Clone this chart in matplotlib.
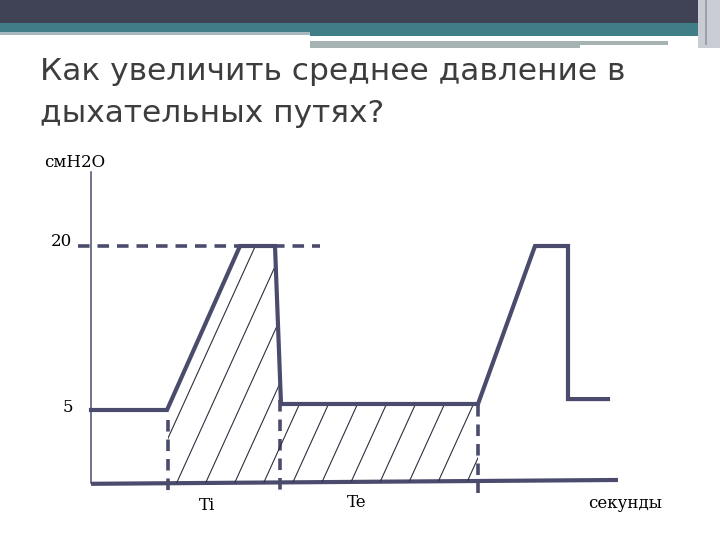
import numpy as np
import matplotlib
matplotlib.use("Agg")
import matplotlib.pyplot as plt
from matplotlib.patches import Rectangle, Polygon
from matplotlib.collections import LineCollection

# ---- data (time in arbitrary units, pressure in cmH2O) ----
wave_t = [0.0, 7.6, 14.9, 18.4, 19.0, 38.7, 44.4, 47.7, 47.7, 51.7]
wave_p = [5.0, 5.0, 20.0, 20.0, 5.55, 5.55, 20.0, 20.0, 6.0, 6.0]
baseline_t = [0.0, 52.7]
baseline_p = [-1.75, -1.4]
yaxis_range = [26.8, -1.7]
peak_ref_t = [-1.3, 22.9]
peak_ref_p = [20.0, 20.0]
marker_t = [7.7, 18.9, 38.7]
marker_top = [4.1, 5.9, 5.5]
marker_bottom = [-2.5, -2.5, -2.6]
hatch_range = [7.7, 38.7]
ytick_vals = [20, 5]
ytick_labels = ["20", "5"]
title = "Как увеличить среднее давление в\nдыхательных путях?"
ylabel = "смН2О"
xlabel = "секунды"
phase_labels = ["Ti", "Te"]
phase_pos = [11.6, 26.6]

LINE = "#4b4b6d"

fig = plt.figure(figsize=(7.2, 5.4), dpi=100)
fig.patch.set_facecolor("white")

# ---- slide decoration (figure coords, y from top) ----
deco = fig.add_axes([0, 0, 1, 1])
deco.set_xlim(0, 720)
deco.set_ylim(540, 0)
deco.axis("off")
deco.add_patch(Rectangle((0, 0), 698, 23, color="#3f4355", lw=0))
deco.add_patch(Rectangle((0, 23), 698, 9, color="#3f7d87", lw=0))
deco.add_patch(Rectangle((0, 32), 310, 3, color="#a9b8be", lw=0))
deco.add_patch(Rectangle((310, 32), 388, 4, color="#3f7d87", lw=0))
deco.add_patch(Rectangle((310, 41), 270, 7, color="#a6b3b3", lw=0))
deco.add_patch(Rectangle((580, 41), 88, 4, color="#a6b3b3", lw=0))
deco.add_patch(Rectangle((698, 0), 22, 48, color="#c9ccd3", lw=0))
deco.add_patch(Rectangle((705, 0), 2, 45, color="#9aa0aa", lw=0))
lines = title.split("\n")
deco.text(40, 80, lines[0], fontsize=22.5, family="DejaVu Sans",
          color="#3d3d3d", va="baseline", ha="left")
deco.text(40, 122, lines[1], fontsize=22.5, family="DejaVu Sans",
          color="#3d3d3d", va="baseline", ha="left")

# ---- chart axes: linear mapping of data to figure ----
# x: t=0 at 91px, 10 px per unit ; y: p=20 at 246px, p=5 at 410px
px_per_t = 10.0
px_per_p = 164.0 / 15.0
x0_t = -91 / px_per_t
x1_t = (720 - 91) / px_per_t
y_top = 20 + 246 / px_per_p
y_bot = 20 - (540 - 246) / px_per_p
ax = fig.add_axes([0, 0, 1, 1])
ax.set_xlim(x0_t, x1_t)
ax.set_ylim(y_bot, y_top)
ax.axis("off")
ax.patch.set_alpha(0)

# y axis line
ax.plot([0, 0], yaxis_range, color=LINE, lw=1.1)
# baseline
ax.plot(baseline_t, baseline_p, color=LINE, lw=3, solid_capstyle="butt")
# reference dashed line at 20
ax.plot(peak_ref_t, peak_ref_p, color=LINE, lw=2.6, ls=(0, (3.2, 2.2)))
# vertical dashed markers
for t, a, b in zip(marker_t, marker_top, marker_bottom):
    ax.plot([t, t], [a, b], color=LINE, lw=2.6, ls=(0, (3.2, 2.2)))

# hatch region under waveform
tt = np.linspace(hatch_range[0], hatch_range[1], 400)
top = np.interp(tt, wave_t[:6], wave_p[:6])
bot = np.interp(tt, baseline_t, baseline_p)
verts = np.vstack([np.column_stack([tt, top]), np.column_stack([tt[::-1], bot[::-1]])])
poly = Polygon(verts, closed=True, facecolor="none", edgecolor="none")
ax.add_patch(poly)
slope = 2.2 * px_per_t / px_per_p
starts = np.arange(hatch_range[0] - 8.0, hatch_range[1] + 1.0, 2.9)
segs = [[(s, -2.0), (s + 24.0 / slope, 22.0)] for s in starts]
lc = LineCollection(segs, colors="#2e2e3e", linewidths=0.8)
ax.add_collection(lc)
lc.set_clip_path(poly)

# waveform
ax.plot(wave_t, wave_p, color=LINE, lw=3, solid_joinstyle="miter")

# texts
serif = "DejaVu Serif"
fs = 12
ax.text(-4.7, 27.2, ylabel, family=serif, fontsize=fs, color="black",
        ha="left", va="baseline")
ax.text(-1.9, 20.0, ytick_labels[0], family=serif, fontsize=fs, color="black",
        ha="right", va="baseline")
ax.text(-1.8, 4.8, ytick_labels[1], family=serif, fontsize=fs, color="black",
        ha="right", va="baseline")
ax.text(phase_pos[0], -4.15, phase_labels[0], family=serif, fontsize=fs,
        color="black", ha="center", va="baseline")
ax.text(phase_pos[1], -3.87, phase_labels[1], family=serif, fontsize=fs,
        color="black", ha="center", va="baseline")
ax.text(53.4, -4.0, xlabel, family=serif, fontsize=fs, color="black",
        ha="center", va="baseline")

fig.savefig("out.png", dpi=100, facecolor="white")
